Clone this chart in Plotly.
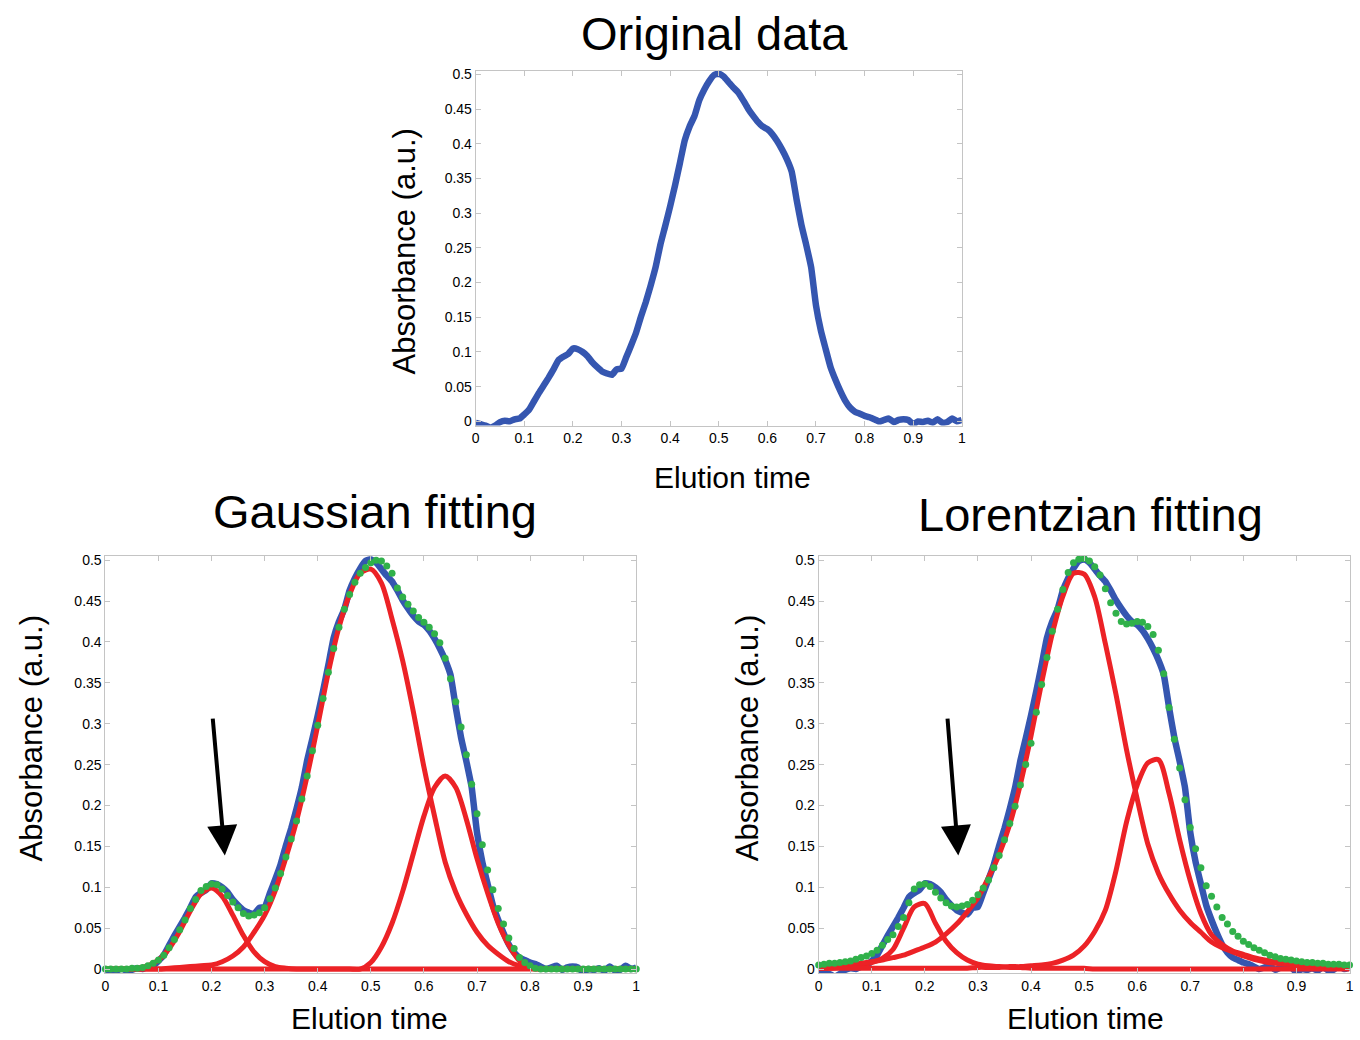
import plotly.graph_objects as go

# ---------------- data ----------------
x_fine = [round(i * 0.01, 2) for i in range(101)]
x_comp = [round(i * 0.02, 2) for i in range(51)]

absorbance_original = [
    -0.002, -0.004, -0.006, -0.009, -0.006, -0.001, 0.001, 0.000, 0.003, 0.004,
    0.010, 0.017, 0.029, 0.041, 0.052, 0.063, 0.075, 0.088, 0.093, 0.097,
    0.105, 0.104, 0.100, 0.094, 0.085, 0.078, 0.072, 0.069, 0.067, 0.075,
    0.076, 0.093, 0.110, 0.128, 0.151, 0.172, 0.196, 0.222, 0.255, 0.282,
    0.310, 0.340, 0.372, 0.405, 0.425, 0.440, 0.463, 0.478, 0.490, 0.499,
    0.501, 0.497, 0.489, 0.481, 0.474, 0.463, 0.451, 0.441, 0.432, 0.425,
    0.421, 0.414, 0.404, 0.392, 0.378, 0.360, 0.320, 0.283, 0.254, 0.222,
    0.167, 0.131, 0.104, 0.078, 0.060, 0.044, 0.030, 0.020, 0.014, 0.011,
    0.008, 0.006, 0.003, 0.000, 0.002, 0.004, -0.001, 0.002, 0.003, 0.002,
    -0.004, 0.000, -0.001, 0.001, -0.002, 0.003, -0.002, -0.001, 0.004, 0.000,
    0.002,
]

gauss_peak1 = [
    0, 0, 0, 0.001, 0.004, 0.011, 0.025, 0.046, 0.071, 0.092,
    0.099, 0.089, 0.066, 0.041, 0.021, 0.009, 0.003, 0.001,
] + [0] * 33
gauss_peak2 = [
    0, 0, 0, 0, 0, 0, 0.001, 0.002, 0.003, 0.004,
    0.005, 0.009, 0.016, 0.027, 0.045, 0.066, 0.096, 0.136, 0.181, 0.236,
    0.298, 0.363, 0.418, 0.458, 0.484, 0.489, 0.472, 0.428, 0.377, 0.315,
    0.247, 0.187, 0.131, 0.094, 0.067, 0.045, 0.029, 0.018, 0.009, 0.004,
    0.001,
] + [0] * 10
gauss_peak3 = [0] * 24 + [
    0.000, 0.008, 0.027, 0.056, 0.095, 0.141, 0.187, 0.222, 0.236, 0.222,
    0.183, 0.135, 0.093, 0.056, 0.029, 0.010, 0.003, 0.000,
] + [0] * 9
gauss_fit = [
    0.000, 0.000, 0.000, 0.000, 0.000, 0.001, 0.001, 0.002, 0.004, 0.007,
    0.011, 0.017, 0.026, 0.036, 0.048, 0.060, 0.074, 0.085, 0.096, 0.101,
    0.104, 0.103, 0.098, 0.090, 0.082, 0.075, 0.068, 0.065, 0.066, 0.069,
    0.075, 0.086, 0.099, 0.117, 0.137, 0.159, 0.181, 0.208, 0.236, 0.267,
    0.298, 0.331, 0.363, 0.392, 0.418, 0.440, 0.458, 0.473, 0.484, 0.491,
    0.497, 0.500, 0.499, 0.493, 0.484, 0.466, 0.455, 0.446, 0.438, 0.430,
    0.424, 0.418, 0.410, 0.399, 0.380, 0.355, 0.327, 0.296, 0.262, 0.226,
    0.190, 0.152, 0.121, 0.097, 0.074, 0.055, 0.038, 0.025, 0.014, 0.008,
    0.004, 0.001, 0.000, 0.000, 0.000, 0.000, 0.000, 0.000, 0.000, 0.000,
    0.000, 0.000, 0.000, 0.000, 0.000, 0.000, 0.000, 0.000, 0.000, 0.000,
    0.000,
]

lorentz_peak1 = [
    0.001, 0.001, 0.002, 0.003, 0.005, 0.008, 0.013, 0.024, 0.050, 0.076,
    0.080, 0.056, 0.034, 0.020, 0.011, 0.006, 0.004, 0.003, 0.002, 0.002,
    0.001, 0.001, 0.001, 0.001, 0.001, 0.001,
] + [0] * 25
lorentz_peak2 = [
    0.003, 0.003, 0.004, 0.005, 0.007, 0.009, 0.011, 0.014, 0.017, 0.022,
    0.027, 0.033, 0.043, 0.055, 0.070, 0.087, 0.112, 0.140, 0.177, 0.226,
    0.285, 0.350, 0.410, 0.456, 0.484, 0.483, 0.455, 0.398, 0.336, 0.268,
    0.208, 0.153, 0.117, 0.092, 0.072, 0.057, 0.045, 0.033, 0.026, 0.021,
    0.016, 0.012, 0.009, 0.007, 0.006, 0.005, 0.004, 0.004, 0.003, 0.003,
    0.003,
]
lorentz_peak3 = [
    0.001, 0.001, 0.001, 0.001, 0.001, 0.001, 0.001, 0.001, 0.001, 0.001,
    0.001, 0.001, 0.001, 0.001, 0.001, 0.002, 0.002, 0.002, 0.003, 0.003,
    0.004, 0.005, 0.007, 0.011, 0.017, 0.028, 0.046, 0.072, 0.120, 0.180,
    0.225, 0.252, 0.256, 0.215, 0.158, 0.108, 0.068, 0.042, 0.030, 0.022,
    0.018, 0.014, 0.011, 0.009, 0.008, 0.007, 0.006, 0.005, 0.005, 0.004,
    0.004,
]
lorentz_fit = [
    0.005, 0.006, 0.007, 0.007, 0.008, 0.009, 0.010, 0.012, 0.014, 0.016,
    0.019, 0.023, 0.029, 0.036, 0.042, 0.052, 0.063, 0.081, 0.098, 0.103,
    0.104, 0.101, 0.094, 0.087, 0.081, 0.077, 0.076, 0.077, 0.079, 0.084,
    0.091, 0.099, 0.109, 0.124, 0.139, 0.158, 0.178, 0.199, 0.225, 0.250,
    0.276, 0.314, 0.348, 0.381, 0.413, 0.440, 0.464, 0.485, 0.497, 0.501,
    0.502, 0.499, 0.492, 0.482, 0.465, 0.448, 0.435, 0.425, 0.422, 0.423,
    0.425, 0.424, 0.419, 0.409, 0.390, 0.361, 0.320, 0.281, 0.246, 0.207,
    0.173, 0.147, 0.124, 0.102, 0.089, 0.076, 0.063, 0.055, 0.046, 0.040,
    0.034, 0.030, 0.026, 0.023, 0.020, 0.017, 0.015, 0.013, 0.012, 0.011,
    0.010, 0.009, 0.008, 0.008, 0.007, 0.007, 0.006, 0.006, 0.006, 0.005,
    0.005,
]

x_tick_vals = [0, 0.1, 0.2, 0.3, 0.4, 0.5, 0.6, 0.7, 0.8, 0.9, 1]
x_tick_text = ["0", "0.1", "0.2", "0.3", "0.4", "0.5", "0.6", "0.7", "0.8", "0.9", "1"]
y_tick_vals = [0, 0.05, 0.1, 0.15, 0.2, 0.25, 0.3, 0.35, 0.4, 0.45, 0.5]
y_tick_text = ["0", "0.05", "0.1", "0.15", "0.2", "0.25", "0.3", "0.35", "0.4", "0.45", "0.5"]

# ---------------- styles ----------------
W, H = 1360, 1040
FONT = "Liberation Sans, Arial, sans-serif"
BLUE = "#3556b0"
RED = "#ec2226"
GREEN = "#30b14a"
FRAME = "#c4c4c4"


def px_x(p):
    return p / W


def px_y(p):
    return 1 - p / H


fig = go.Figure()

panels = [
    ("x", "y", None),
    ("x2", "y2", (gauss_peak1, gauss_peak2, gauss_peak3, gauss_fit)),
    ("x3", "y3", (lorentz_peak1, lorentz_peak2, lorentz_peak3, lorentz_fit)),
]

for xa, ya, fitdata in panels:
    fig.add_trace(go.Scatter(x=x_fine, y=absorbance_original, mode="lines",
                             line=dict(color=BLUE, width=6.5, shape="spline", smoothing=0.4),
                             xaxis=xa, yaxis=ya, showlegend=False, hoverinfo="skip"))
    if fitdata is not None:
        p1, p2, p3, fit = fitdata
        for comp in (p1, p2, p3):
            fig.add_trace(go.Scatter(x=x_comp, y=comp, mode="lines",
                                     line=dict(color=RED, width=5, shape="spline", smoothing=0.8),
                                     xaxis=xa, yaxis=ya, showlegend=False, hoverinfo="skip"))
        fig.add_trace(go.Scatter(x=x_fine, y=fit, mode="markers",
                                 marker=dict(color=GREEN, size=7, line=dict(width=0)),
                                 cliponaxis=False,
                                 xaxis=xa, yaxis=ya, showlegend=False, hoverinfo="skip"))


def xaxis(dom, anchor):
    return dict(domain=dom, anchor=anchor, range=[0, 1], tickvals=x_tick_vals, ticktext=x_tick_text,
                ticks="inside", ticklen=5, tickcolor=FRAME, showline=True, linecolor=FRAME,
                linewidth=1, mirror="ticks", showgrid=False, zeroline=False,
                tickfont=dict(family=FONT, size=14, color="black"))


def yaxis(dom, anchor, rng):
    return dict(domain=dom, anchor=anchor, range=rng, tickvals=y_tick_vals, ticktext=y_tick_text,
                ticks="inside", ticklen=5, tickcolor=FRAME, showline=True, linecolor=FRAME,
                linewidth=1, mirror="ticks", showgrid=False, zeroline=False,
                tickfont=dict(family=FONT, size=14, color="black"))


fig.update_layout(
    width=W, height=H, autosize=False,
    margin=dict(l=0, r=0, t=0, b=0),
    paper_bgcolor="white", plot_bgcolor="white",
    xaxis=xaxis([px_x(474.5), px_x(963.5)], "y"),
    yaxis=yaxis([px_y(424.2), px_y(66.5)], "x", [-0.006, 0.505]),
    xaxis2=xaxis([px_x(102), px_x(636)], "y2"),
    yaxis2=yaxis([px_y(976.6), px_y(555.9)], "x2", [-0.005, 0.505]),
    xaxis3=xaxis([px_x(819.5), px_x(1353.5)], "y3"),
    yaxis3=yaxis([px_y(976.6), px_y(555.9)], "x3", [-0.005, 0.505]),
)

ann = []
# titles
for txt, cx, cy in [("Original data", 715, 29), ("Gaussian fitting", 373, 511),
                    ("Lorentzian fitting", 1093, 514)]:
    ann.append(dict(text=txt, x=px_x(cx), y=px_y(cy), xref="paper", yref="paper",
                    xanchor="center", yanchor="middle", showarrow=False, borderpad=0,
                    font=dict(family=FONT, size=47, color="black")))
# axis titles
for cx, cy in [(403, 249), (28, 740), (748, 740)]:
    ann.append(dict(text="Absorbance (a.u.)", x=px_x(cx), y=px_y(cy), xref="paper", yref="paper",
                    xanchor="center", yanchor="middle", showarrow=False, textangle=-90,
                    borderpad=0, font=dict(family=FONT, size=31, color="black")))
for cx, cy in [(733, 477), (368, 1022), (1088, 1022)]:
    ann.append(dict(text="Elution time", x=px_x(cx), y=px_y(cy), xref="paper", yref="paper",
                    xanchor="center", yanchor="middle", showarrow=False, borderpad=0,
                    font=dict(family=FONT, size=30, color="black")))
# arrows
for xa, ya, tipx, tailx in [("x2", "y2", 0.225, 0.202), ("x3", "y3", 0.263, 0.2425)]:
    ann.append(dict(text="", x=tipx, y=0.139, xref=xa, yref=ya, ax=tailx, ay=0.308,
                    axref=xa, ayref=ya, showarrow=True, arrowhead=2, arrowsize=1.5,
                    arrowwidth=4, arrowcolor="black"))
fig.update_layout(annotations=ann)

fig.write_html("out.html")
